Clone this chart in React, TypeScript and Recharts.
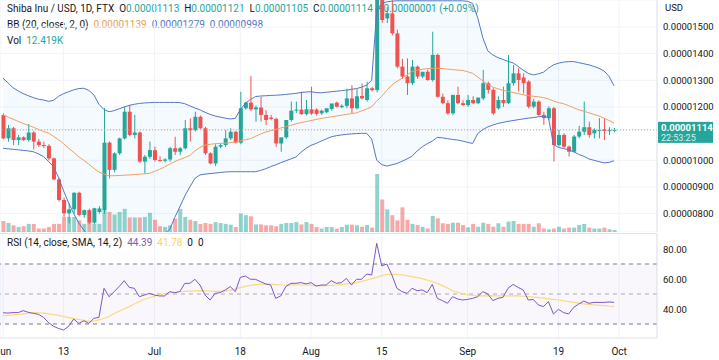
import React from 'react';
import {
  ComposedChart, Bar, Line, Area, XAxis, YAxis, CartesianGrid,
  ReferenceLine, ReferenceArea, Cell,
} from 'recharts';

// SHIB/USD daily, Jun 1 .. Sep 30, prices in 1e-8 USD
const opens = [
  1170, 1082, 1120, 1076, 1086, 1076, 1104, 1070, 1057, 1054,
  1007, 928, 851, 801, 816, 878, 795, 813, 766, 806,
  812, 1066, 964, 1026, 1082, 1182, 1095, 1104, 995, 1013,
  1038, 1001, 998, 1003, 1045, 1032, 1045, 1120, 1113, 1163,
  1120, 1026, 988, 1051, 1057, 1082, 1107, 1066, 1195, 1216,
  1191, 1198, 1170, 1160, 1155, 1063, 1086, 1151, 1186, 1190,
  1173, 1191, 1190, 1176, 1180, 1192, 1216, 1199, 1204, 1232,
  1195, 1241, 1226, 1270, 1263, 1610, 1532, 1551, 1476, 1351,
  1314, 1289, 1351, 1314, 1332, 1301, 1395, 1238, 1214, 1176,
  1245, 1214, 1207, 1226, 1214, 1232, 1289, 1264, 1195, 1226,
  1214, 1289, 1326, 1310, 1295, 1201, 1220, 1170, 1158, 1195,
  1057, 1095, 1051, 1032, 1089, 1107, 1124, 1101, 1110, 1116,
  1110, 1113,
];
const highs = [
  1176, 1132, 1125, 1095, 1090, 1136, 1110, 1080, 1070, 1060,
  1010, 935, 860, 838, 880, 882, 815, 818, 822, 828,
  1196, 1070, 1030, 1085, 1201, 1207, 1170, 1108, 1020, 1070,
  1051, 1015, 1008, 1050, 1088, 1050, 1151, 1157, 1182, 1168,
  1125, 1030, 1060, 1062, 1113, 1120, 1110, 1257, 1220, 1316,
  1205, 1238, 1188, 1170, 1160, 1070, 1090, 1220, 1220, 1257,
  1226, 1276, 1195, 1190, 1190, 1198, 1220, 1210, 1268, 1282,
  1268, 1288, 1295, 1275, 1720, 1640, 1575, 1600, 1490, 1380,
  1382, 1376, 1355, 1330, 1340, 1482, 1400, 1250, 1225, 1245,
  1276, 1225, 1245, 1240, 1235, 1339, 1295, 1270, 1240, 1276,
  1395, 1357, 1345, 1326, 1300, 1230, 1225, 1182, 1202, 1200,
  1114, 1101, 1055, 1095, 1129, 1220, 1145, 1120, 1158, 1158,
  1124, 1121,
];
const lows = [
  1079, 1070, 1057, 1057, 1072, 1070, 1041, 1050, 1045, 1000,
  925, 845, 788, 763, 800, 790, 785, 760, 760, 800,
  800, 932, 955, 1020, 1078, 1090, 1082, 990, 951, 1005,
  995, 995, 992, 995, 1020, 1020, 1040, 1070, 1108, 1118,
  1020, 985, 978, 1045, 1050, 1075, 1063, 1060, 1190, 1185,
  1145, 1145, 1132, 1150, 1050, 1032, 1080, 1145, 1178, 1170,
  1168, 1170, 1168, 1170, 1176, 1185, 1198, 1195, 1195, 1176,
  1190, 1228, 1220, 1258, 1255, 1515, 1515, 1468, 1345, 1305,
  1245, 1282, 1305, 1308, 1298, 1295, 1235, 1210, 1170, 1170,
  1210, 1203, 1200, 1210, 1210, 1225, 1250, 1170, 1190, 1200,
  1210, 1280, 1258, 1250, 1195, 1195, 1165, 1133, 1150, 995,
  1051, 1045, 1014, 1028, 1082, 1095, 1085, 1082, 1082, 1076,
  1095, 1105,
];
const closes = [
  1082, 1120, 1076, 1086, 1076, 1104, 1070, 1057, 1054, 1007,
  928, 851, 801, 816, 878, 795, 813, 766, 820, 819,
  1066, 964, 1026, 1082, 1182, 1095, 1104, 995, 1013, 1038,
  1001, 998, 1003, 1045, 1032, 1045, 1120, 1113, 1163, 1120,
  1026, 988, 1051, 1057, 1082, 1107, 1066, 1195, 1216, 1191,
  1198, 1170, 1151, 1155, 1063, 1086, 1151, 1186, 1190, 1173,
  1191, 1175, 1174, 1186, 1195, 1213, 1201, 1204, 1232, 1195,
  1240, 1232, 1270, 1263, 1610, 1526, 1551, 1476, 1351, 1314,
  1289, 1351, 1314, 1332, 1301, 1395, 1238, 1214, 1176, 1245,
  1214, 1207, 1226, 1214, 1235, 1289, 1264, 1176, 1226, 1214,
  1289, 1326, 1301, 1289, 1201, 1220, 1170, 1158, 1195, 1057,
  1095, 1051, 1032, 1089, 1107, 1124, 1095, 1114, 1114, 1110,
  1113, 1114,
];
// volume, thousands
const volumes = [
  67.4, 55, 40.8, 30.5, 35.5, 49.7, 49.7, 21.3, 21.3, 30.5,
  49.7, 49.7, 92.3, 92.3, 92.3, 71, 49.7, 56.8, 49.7, 49.7,
  127.8, 122.5, 106.5, 122.5, 142, 88.8, 88.8, 88.8, 92.3, 117.2,
  74.6, 35.5, 30.5, 40.8, 81.7, 142, 92.3, 74.6, 67.4, 49.7,
  55, 49.7, 60.4, 55, 49.7, 44.7, 30.5, 113.6, 103, 95.9,
  46.2, 46.2, 40.8, 40.8, 35.5, 49.7, 55, 55, 60.4, 46.2,
  60.4, 49.7, 30.5, 21.3, 30.5, 30.5, 21.3, 30.5, 44.7, 44.7,
  40.8, 32, 42.6, 26.6, 355, 198.8, 138.5, 103, 71, 150.9,
  74.6, 49.7, 42.6, 32, 21.3, 98, 83.8, 53.3, 49.7, 56.8,
  56.8, 42.6, 28.4, 49.7, 32, 56.8, 49.7, 32, 53.3, 32,
  63.9, 67.4, 49.7, 49.7, 49.7, 32, 53.3, 21.3, 16.3, 21.3,
  32, 21.3, 26.6, 26.6, 42.6, 49.7, 26.6, 21.3, 21.3, 26.6,
  16.3, 12.419,
];
const bbUpper = [
  1308, 1290, 1272, 1260, 1250, 1242, 1235, 1229, 1226, 1221,
  1225, 1240, 1250, 1257, 1264, 1269, 1270, 1262, 1245, 1210,
  1190, 1182, 1186, 1193, 1200, 1206, 1210, 1213, 1215, 1216,
  1217, 1217, 1217, 1217, 1217, 1216, 1212, 1204, 1196, 1189,
  1180, 1172, 1166, 1162, 1158, 1155, 1157, 1190, 1214, 1228,
  1239, 1241, 1242, 1243, 1244, 1245, 1247, 1249, 1251, 1254,
  1256, 1257, 1254, 1253, 1255, 1257, 1259, 1261, 1263, 1266,
  1269, 1274, 1282, 1300, 1560, 1588, 1594, 1597, 1598, 1598,
  1598, 1598, 1598, 1598, 1598, 1598, 1598, 1598, 1598, 1598,
  1598, 1598, 1596, 1588, 1535, 1460, 1410, 1395, 1385, 1378,
  1371, 1365, 1352, 1338, 1326, 1320, 1324, 1330, 1345, 1358,
  1364, 1368, 1370, 1370, 1366, 1362, 1358, 1352, 1345, 1335,
  1315, 1279,
];
const bbBasis = [
  1170, 1162, 1154, 1146, 1138, 1131, 1124, 1116, 1108, 1102,
  1090, 1077, 1062, 1045, 1030, 1013, 1000, 985, 970, 956,
  948, 942, 942, 943, 944, 945, 946, 948, 949, 951,
  958, 966, 975, 985, 995, 1003, 1010, 1018, 1035, 1048,
  1057, 1060, 1062, 1063, 1064, 1066, 1068, 1073, 1077, 1081,
  1090, 1098, 1106, 1111, 1116, 1121, 1126, 1131, 1137, 1141,
  1145, 1149, 1153, 1157, 1160, 1163, 1166, 1169, 1172, 1175,
  1178, 1185, 1192, 1200, 1222, 1240, 1262, 1282, 1296, 1307,
  1320, 1333, 1338, 1341, 1344, 1345, 1345, 1344, 1342, 1340,
  1338, 1337, 1332, 1326, 1312, 1298, 1285, 1274, 1268, 1262,
  1258, 1254, 1250, 1246, 1242, 1240, 1238, 1235, 1230, 1222,
  1216, 1212, 1205, 1197, 1189, 1184, 1178, 1172, 1166, 1158,
  1149, 1139,
];
const bbLower = [
  1045, 1043, 1041, 1039, 1037, 1035, 1032, 1024, 1014, 996,
  976, 935, 885, 840, 800, 765, 738, 715, 700, 690,
  685, 682, 680, 680, 682, 684, 686, 688, 692, 698,
  706, 716, 726, 740, 785, 825, 866, 900, 932, 945,
  948, 950, 952, 954, 956, 957, 957, 957, 957, 957,
  957, 962, 968, 976, 983, 991, 998, 1005, 1012, 1030,
  1045, 1056, 1063, 1072, 1080, 1088, 1092, 1095, 1097, 1099,
  1100, 1101, 1101, 1080, 1000, 984, 978, 983, 988, 996,
  1005, 1015, 1035, 1050, 1062, 1072, 1086, 1084, 1081, 1078,
  1076, 1072, 1067, 1063, 1100, 1115, 1125, 1132, 1138, 1142,
  1146, 1149, 1152, 1155, 1158, 1160, 1163, 1165, 1160, 1060,
  1048, 1044, 1039, 1032, 1022, 1015, 1005, 1000, 995, 990,
  992, 998,
];
const rsi = [
  37.5, 37.3, 37.6, 37.6, 38.9, 37.8, 37.1, 36.5, 34.5, 31.0,
  28.5, 27.0, 26.0, 28.5, 33.3, 30.4, 32.2, 30.4, 33.8, 34.4,
  53.8, 48.2, 51.5, 55.0, 58.9, 54.4, 53.8, 48.2, 49.3, 50.4,
  49.3, 48.7, 48.7, 51.6, 50.9, 51.6, 57.1, 57.1, 59.8, 56.0,
  49.3, 46.0, 50.4, 50.9, 52.7, 54.9, 51.6, 61.1, 62.0, 59.8,
  59.8, 58.2, 56.7, 56.0, 47.1, 48.7, 54.9, 57.1, 57.1, 57.6,
  56.7, 57.6, 55.3, 56.0, 56.0, 58.9, 57.1, 57.6, 60.4, 56.0,
  59.8, 59.8, 63.3, 62.7, 83.8, 68.7, 70.0, 62.7, 53.8, 51.6,
  50.4, 53.8, 52.2, 52.7, 50.9, 56.4, 47.1, 45.6, 43.8, 48.2,
  46.7, 46.0, 46.4, 47.1, 48.2, 51.6, 50.0, 45.6, 47.1, 47.8,
  53.8, 56.4, 54.4, 52.7, 46.0, 46.4, 42.7, 41.6, 44.9, 36.7,
  39.8, 37.6, 36.7, 41.1, 43.3, 45.3, 43.8, 44.4, 44.4, 44.4,
  44.7, 44.39,
];
const rsiMa = [
  35.5, 35.8, 36.1, 36.4, 36.8, 37.2, 37.6, 37.5, 37.2, 36.8,
  36.3, 35.8, 35.0, 34.3, 33.6, 33.0, 32.4, 31.8, 32.0, 32.7,
  33.8, 35.0, 37.0, 38.5, 40.0, 41.6, 43.3, 45.0, 46.5, 47.5,
  48.6, 49.5, 50.2, 50.6, 51.0, 51.5, 51.7, 51.9, 52.1, 52.2,
  52.1, 51.9, 51.7, 51.8, 52.1, 52.6, 53.4, 54.3, 55.1, 55.8,
  56.2, 56.5, 56.7, 56.6, 56.3, 56.0, 55.9, 56.0, 56.0, 56.0,
  56.0, 55.9, 55.5, 55.4, 55.6, 55.8, 56.0, 56.4, 56.8, 57.2,
  57.6, 58.4, 59.3, 60.2, 61.1, 62.2, 63.0, 63.1, 63.0, 62.7,
  62.3, 61.6, 60.9, 60.3, 59.3, 58.2, 57.1, 55.6, 54.0, 52.2,
  51.2, 50.2, 49.4, 49.0, 48.8, 48.7, 48.7, 48.7, 48.7, 48.7,
  48.7, 48.7, 48.7, 48.5, 48.2, 47.9, 47.6, 47.2, 46.8, 46.4,
  46.0, 45.5, 44.9, 44.4, 43.9, 43.4, 43.1, 42.8, 42.6, 42.3,
  42.0, 41.78,
];

const dateTicks = [0, 12, 30, 47, 61, 75, 92, 110, 122];
const dateLabels = ['Jun', '13', 'Jul', '18', 'Aug', '15', 'Sep', '19', 'Oct'];
const priceTicks = [800, 900, 1000, 1200, 1300, 1400, 1500];
const rsiTicks = [40, 60, 80];
const rsiBands = [70, 50, 30];
const countdown = '22:53:25';

const UP = '#26a69a';
const DOWN = '#ef5350';
const TEXT = '#131722';
const BORDER = '#e0e3eb';
const GRID = '#f0f3fa';
const BAND = '#5577c4';
const FONT = 'Roboto, "Noto Sans", sans-serif';

const XMIN = -0.594;
const XMAX = 129.5;

const rows = opens.map((o, i) => ({
  i, o, h: highs[i], l: lows[i], c: closes[i], v: volumes[i],
  bu: bbUpper[i], bm: bbBasis[i], bl: bbLower[i], r: rsi[i], m: rsiMa[i],
}));

const last = rows[rows.length - 1];
const prevClose = closes[closes.length - 2];
const fmtPrice = (v: number) => (v * 1e-8).toFixed(8);

const Candle = (props: any) => {
  const { x, y, width, height, payload } = props;
  const { o, h, l, c } = payload;
  const top0 = Math.min(y, y + height);
  const hgt = Math.abs(height);
  const span = h - l || 1;
  const py = (v: number) => top0 + ((h - v) / span) * hgt;
  const color = c >= o ? UP : DOWN;
  const bt = py(Math.max(o, c));
  const bb = py(Math.min(o, c));
  const cx = x + width / 2;
  return (
    <g>
      <line x1={cx} x2={cx} y1={top0} y2={top0 + hgt} stroke={color} strokeWidth={1} />
      <rect x={x} y={bt} width={width} height={Math.max(bb - bt, 1)} fill={color} />
    </g>
  );
};

const PriceTick = (p: any) => {
  const v = p.payload.value;
  if (v === last.c) {
    return (
      <g>
        <rect x={p.x + 1} y={p.y - 8} width={55} height={21} fill={UP} />
        <text x={p.x + 4} y={p.y + 1.5} fill="#fff" fontSize={9.5} fontWeight={700} fontFamily={FONT}>
          {fmtPrice(v)}
        </text>
        <text x={p.x + 4} y={p.y + 11} fill="#d8f0ee" fontSize={9} fontFamily={FONT}>
          {countdown}
        </text>
      </g>
    );
  }
  return (
    <text x={p.x + 6} y={p.y + 3.5} fill={TEXT} fontSize={9.5} fontFamily={FONT}>
      {fmtPrice(v)}
    </text>
  );
};

const RsiTick = (p: any) => (
  <text x={p.x + 6} y={p.y + 3.5} fill={TEXT} fontSize={9.5} fontFamily={FONT}>
    {Number(p.payload.value).toFixed(2)}
  </text>
);

const DateTick = (p: any) => {
  const k = dateTicks.indexOf(p.payload.value);
  return (
    <text x={p.x} y={p.y + 17} textAnchor="middle" fill={TEXT} fontSize={10} fontFamily={FONT}>
      {dateLabels[k]}
    </text>
  );
};

export default function App() {
  const change = last.c - prevClose;
  const pct = ((100 * change) / prevClose).toFixed(2);
  return (
    <div style={{ position: 'relative', width: 719, height: 360, background: '#fff', overflow: 'hidden', fontFamily: FONT }}>
      <style>{'body{margin:0}'}</style>

      <div style={{ position: 'absolute', left: 7, top: 1, fontSize: 10, lineHeight: '16px', color: TEXT, whiteSpace: 'nowrap' }}>
        <div>
          Shiba Inu / USD, 1D, FTX&nbsp;&nbsp;O<span style={{ color: UP }}>{fmtPrice(last.o)}</span>
          &nbsp;&nbsp;H<span style={{ color: UP }}>{fmtPrice(last.h)}</span>
          &nbsp;&nbsp;L<span style={{ color: UP }}>{fmtPrice(last.l)}</span>
          &nbsp;&nbsp;C<span style={{ color: UP }}>{fmtPrice(last.c)}</span>
          &nbsp;&nbsp;<span style={{ color: UP }}>+{fmtPrice(change)} (+{pct}%)</span>
        </div>
        <div>
          BB (20, close, 2, 0)&nbsp;&nbsp;<span style={{ color: '#f0a050' }}>{fmtPrice(last.bm)}</span>
          &nbsp;&nbsp;<span style={{ color: BAND }}>{fmtPrice(last.bu)}</span>
          &nbsp;&nbsp;<span style={{ color: BAND }}>{fmtPrice(last.bl)}</span>
        </div>
        <div>
          Vol&nbsp;&nbsp;<span style={{ color: UP }}>{last.v.toFixed(3)}K</span>
        </div>
      </div>
      <div style={{ position: 'absolute', left: 665, top: 2, fontSize: 9.5, color: TEXT }}>USD</div>

      <div style={{ position: 'absolute', left: 0, top: 0 }}>
        <ComposedChart width={719} height={232} data={rows} margin={{ top: 0, right: 0, bottom: 0, left: 0 }}>
          <XAxis xAxisId="x" dataKey="i" type="number" domain={[XMIN, XMAX]} ticks={dateTicks} allowDataOverflow hide />
          <XAxis xAxisId="xv" dataKey="i" type="number" domain={[XMIN, XMAX]} allowDataOverflow hide />
          <YAxis
            yAxisId="p" orientation="right" width={62} domain={[731, 1601]} allowDataOverflow
            ticks={[...priceTicks, last.c]} interval={0} tickLine={false} tickSize={0} tickMargin={0}
            axisLine={{ stroke: BORDER }} tick={<PriceTick />}
          />
          <YAxis yAxisId="vol" domain={[0, 1420]} hide />
          <CartesianGrid xAxisId="x" yAxisId="p" stroke={GRID} />
          <Area
            xAxisId="x" yAxisId="p" dataKey={(d: any) => [d.bl, d.bu]} stroke="none"
            fill="rgba(33,150,243,0.07)" dot={false} activeDot={false} isAnimationActive={false}
          />
          <Bar xAxisId="xv" yAxisId="vol" dataKey="v" barSize={4} isAnimationActive={false}>
            {rows.map((d) => (
              <Cell key={d.i} fill={d.c >= d.o ? 'rgba(38,166,154,0.5)' : 'rgba(239,83,80,0.5)'} />
            ))}
          </Bar>
          <ReferenceLine xAxisId="x" yAxisId="p" y={last.c} stroke="#c9a09a" strokeDasharray="1 2" />
          <Bar
            xAxisId="x" yAxisId="p" dataKey={(d: any) => [d.l, d.h]} barSize={4}
            shape={<Candle />} isAnimationActive={false}
          />
          <Line xAxisId="x" yAxisId="p" dataKey="bu" stroke={BAND} strokeWidth={1} dot={false} activeDot={false} isAnimationActive={false} />
          <Line xAxisId="x" yAxisId="p" dataKey="bl" stroke={BAND} strokeWidth={1} dot={false} activeDot={false} isAnimationActive={false} />
          <Line xAxisId="x" yAxisId="p" dataKey="bm" stroke="#f0a060" strokeWidth={1} dot={false} activeDot={false} isAnimationActive={false} />
        </ComposedChart>
      </div>

      <div style={{ position: 'absolute', left: 0, top: 233, width: 657, height: 1, background: BORDER }} />

      <div style={{ position: 'absolute', left: 7, top: 236, fontSize: 10, lineHeight: '14px', color: TEXT, whiteSpace: 'nowrap', zIndex: 2 }}>
        RSI (14, close, SMA, 14, 2)&nbsp;&nbsp;<span style={{ color: '#7e57c2' }}>{last.r.toFixed(2)}</span>
        &nbsp;&nbsp;<span style={{ color: '#f2d46a' }}>{last.m.toFixed(2)}</span>
        &nbsp;&nbsp;0&nbsp;&nbsp;0
      </div>

      <div style={{ position: 'absolute', left: 0, top: 234 }}>
        <ComposedChart width={719} height={126} data={rows} margin={{ top: 0, right: 0, bottom: 0, left: 0 }}>
          <XAxis
            dataKey="i" type="number" domain={[XMIN, XMAX]} allowDataOverflow ticks={dateTicks} interval={0}
            height={22} tickLine={false} tickSize={0} tickMargin={0} axisLine={{ stroke: BORDER }} tick={<DateTick />}
          />
          <YAxis
            orientation="right" width={62} domain={[20.67, 90]} allowDataOverflow ticks={rsiTicks} interval={0}
            tickLine={false} tickSize={0} tickMargin={0} axisLine={{ stroke: BORDER }} tick={<RsiTick />}
          />
          <CartesianGrid stroke={GRID} horizontal={false} />
          <ReferenceArea y1={30} y2={70} fill="rgba(126,87,194,0.09)" stroke="none" />
          {rsiBands.map((b) => (
            <ReferenceLine key={b} y={b} stroke={b === 50 ? '#a8abb5' : '#787b86'} strokeDasharray="4 4" />
          ))}
          <Line dataKey="m" stroke="#f6dc7c" strokeWidth={1.2} dot={false} activeDot={false} isAnimationActive={false} />
          <Line dataKey="r" stroke="#7e57c2" strokeWidth={1} dot={false} activeDot={false} isAnimationActive={false} />
        </ComposedChart>
      </div>
    </div>
  );
}
